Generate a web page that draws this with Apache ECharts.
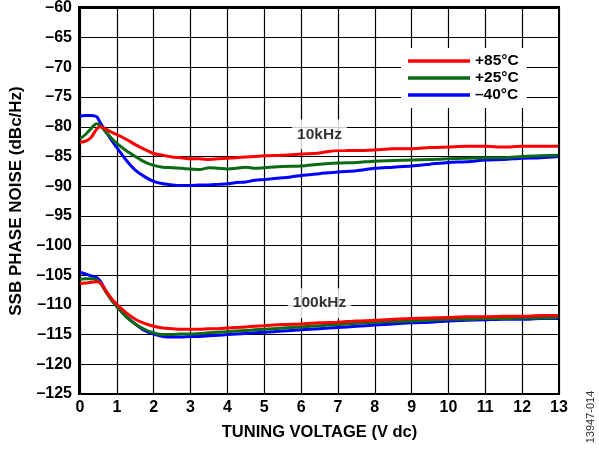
<!DOCTYPE html>
<html>
<head>
<meta charset="utf-8">
<script src="https://cdn.jsdelivr.net/npm/echarts@6/dist/echarts.min.js"></script>
<style>html,body{margin:0;padding:0;background:#fff}#c{width:599px;height:450px}</style>
</head>
<body>
<div id="c"></div>
<script>
var voltage = [0, 0.15, 0.3, 0.45, 0.55, 0.7, 0.85, 1, 1.25, 1.5, 1.75, 2, 2.25, 2.5, 2.75, 3, 3.25, 3.5, 3.75, 4, 4.25, 4.5, 4.75, 5, 5.5, 6, 6.5, 7, 7.5, 8, 8.5, 9, 9.5, 10, 10.5, 11, 11.5, 12, 12.5, 13];

var neg40_10k = [-78.2, -78.1, -78.1, -78.3, -79.3, -80.8, -82.2, -83.5, -85.6, -87.3, -88.4, -89.2, -89.6, -89.8, -89.9, -89.9, -89.8, -89.8, -89.7, -89.6, -89.4, -89.3, -89.0, -88.9, -88.6, -88.2, -87.9, -87.6, -87.4, -87.0, -86.8, -86.6, -86.3, -86.0, -85.9, -85.6, -85.5, -85.3, -85.2, -85.0];
var pos25_10k = [-82.0, -81.3, -80.3, -79.5, -79.8, -80.9, -81.9, -82.8, -84.0, -85.0, -85.9, -86.5, -86.8, -86.9, -87.0, -87.1, -87.2, -86.9, -87.0, -87.1, -87.0, -86.8, -87.0, -86.9, -86.7, -86.6, -86.3, -86.1, -86.0, -85.8, -85.7, -85.6, -85.5, -85.4, -85.3, -85.2, -85.2, -85.0, -84.9, -84.8];
var pos85_10k = [-82.6, -82.4, -81.8, -80.4, -80.0, -80.4, -80.9, -81.3, -82.1, -83.0, -83.8, -84.5, -84.8, -85.1, -85.2, -85.4, -85.4, -85.5, -85.4, -85.3, -85.2, -85.1, -85.0, -84.9, -84.8, -84.6, -84.4, -84.0, -84.0, -83.9, -83.7, -83.7, -83.5, -83.4, -83.3, -83.3, -83.4, -83.3, -83.3, -83.3];

var neg40_100k = [-104.5, -104.8, -105.1, -105.4, -106.0, -107.6, -109.0, -110.2, -111.9, -113.2, -114.3, -114.9, -115.3, -115.4, -115.4, -115.3, -115.3, -115.2, -115.1, -115.0, -114.9, -114.8, -114.7, -114.6, -114.4, -114.2, -114.0, -113.8, -113.6, -113.4, -113.2, -113.0, -112.9, -112.7, -112.6, -112.5, -112.4, -112.4, -112.3, -112.3];
var pos25_100k = [-105.7, -105.6, -105.6, -105.8, -106.3, -107.8, -109.2, -110.3, -112.0, -113.2, -114.1, -114.7, -115.0, -115.0, -114.9, -114.9, -114.8, -114.7, -114.6, -114.5, -114.4, -114.3, -114.2, -114.1, -113.9, -113.7, -113.5, -113.3, -113.1, -112.9, -112.8, -112.7, -112.6, -112.4, -112.4, -112.3, -112.3, -112.2, -112.2, -112.1];
var pos85_100k = [-106.4, -106.3, -106.2, -106.1, -106.3, -107.6, -108.9, -109.9, -111.3, -112.4, -113.1, -113.6, -113.9, -114.0, -114.1, -114.1, -114.1, -114.0, -114.0, -113.9, -113.8, -113.7, -113.6, -113.5, -113.3, -113.2, -113.0, -112.9, -112.7, -112.6, -112.4, -112.3, -112.2, -112.1, -112.0, -112.0, -111.9, -111.9, -111.8, -111.8];

var seriesNames = ['+85°C', '+25°C', '–40°C'];
var seriesColors = ['#ff0000', '#0a6b14', '#0000ff'];
var notes = [[6.5, -81.3, '10kHz'], [6.5, -109.7, '100kHz']];

function pairs(ys) { return voltage.map(function (x, i) { return [x, ys[i]]; }); }
function line(name, color, ys, z) {
  return { name: name, type: 'line', data: pairs(ys), showSymbol: false, symbol: 'none',
    smooth: 0.3, z: z, lineStyle: { color: color, width: 3 }, itemStyle: { color: color }, animation: false };
}
var font = 'Arial, "Liberation Sans", sans-serif';
var chart = echarts.init(document.getElementById('c'), null, { renderer: 'canvas' });
chart.setOption({
  animation: false,
  grid: { left: 79, right: 40, top: 8, bottom: 56, show: false },
  legend: {
    data: seriesNames, orient: 'vertical', left: 401, top: 48, icon: 'rect',
    backgroundColor: '#fff', padding: [5, 8, 5, 7], itemGap: 1, itemWidth: 62, itemHeight: 3.5,
    textStyle: { fontFamily: font, fontWeight: 'bold', fontSize: 15.5, color: '#000', lineHeight: 16 }
  },
  xAxis: {
    type: 'value', min: 0, max: 13, interval: 1,
    name: 'TUNING VOLTAGE (V dc)', nameLocation: 'middle', nameGap: 30,
    nameTextStyle: { fontFamily: font, fontWeight: 'bold', fontSize: 16.5, color: '#000' },
    axisLine: { show: true, onZero: false, lineStyle: { color: '#000', width: 2 } },
    axisTick: { show: false },
    axisLabel: { margin: 6, fontFamily: font, fontWeight: 'bold', fontSize: 16, color: '#000' },
    splitLine: { show: true, lineStyle: { color: '#000', width: 1.2 } }
  },
  yAxis: {
    type: 'value', min: -125, max: -60, interval: 5,
    name: 'SSB PHASE NOISE (dBc/Hz)', nameLocation: 'middle', nameGap: 55,
    nameTextStyle: { fontFamily: font, fontWeight: 'bold', fontSize: 17, color: '#000' },
    axisLine: { show: true, onZero: false, lineStyle: { color: '#000', width: 2 } },
    axisTick: { show: false },
    axisLabel: { margin: 8, fontFamily: font, fontWeight: 'bold', fontSize: 16, color: '#000',
      formatter: function (v) { return String(v).replace('-', '–'); } },
    splitLine: { show: true, lineStyle: { color: '#000', width: 1.2 } }
  },
  graphic: [
    { type: 'rect', shape: { x: 79, y: 7, width: 480, height: 387 }, style: { fill: 'none', stroke: '#000', lineWidth: 2 }, z: 50, silent: true },
    { type: 'text', x: 591, y: 417, rotation: Math.PI / 2,
      style: { text: '13947-014', fontFamily: font, fontSize: 11, fill: '#333', align: 'center', verticalAlign: 'middle' } }
  ],
  series: [
    line('–40°C', seriesColors[2], neg40_10k, 3),
    line('+25°C', seriesColors[1], pos25_10k, 4),
    line('+85°C', seriesColors[0], pos85_10k, 5),
    line('–40°C', seriesColors[2], neg40_100k, 3),
    line('+25°C', seriesColors[1], pos25_100k, 4),
    line('+85°C', seriesColors[0], pos85_100k, 5),
    { name: 'notes', type: 'scatter', data: notes, symbolSize: 1, itemStyle: { color: 'rgba(0,0,0,0)' }, z: 6,
      label: { show: true, position: 'inside', formatter: function (p) { return p.data[2]; },
        backgroundColor: '#fff', padding: [7, 5], fontFamily: font, fontWeight: 'bold', fontSize: 15.5, color: '#000' } }
  ]
});
</script>
</body>
</html>
